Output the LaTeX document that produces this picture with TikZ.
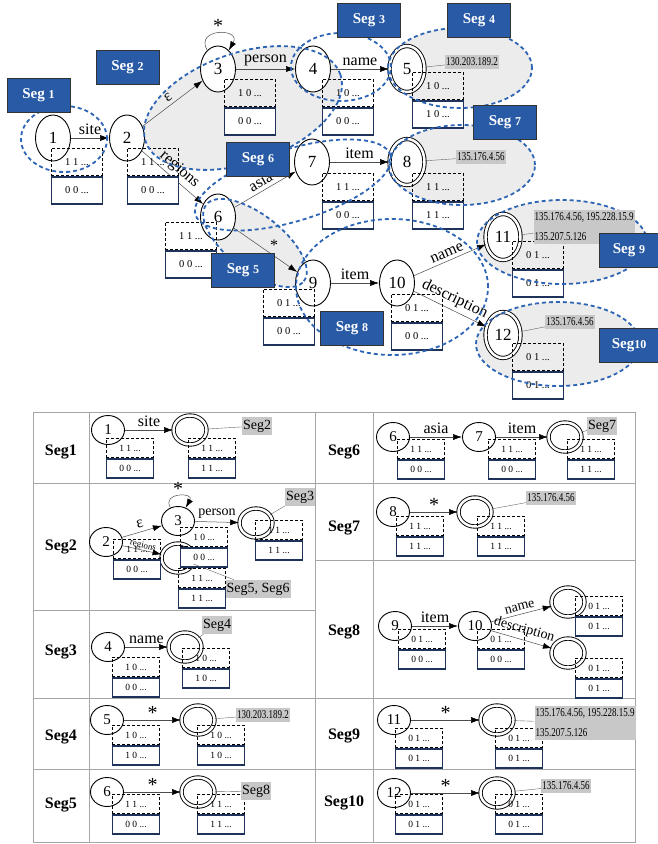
\documentclass[tikz,border=0pt]{standalone}
\usepackage{fontspec}
\setmainfont{Liberation Serif}
\newfontfamily\narrowfont[FakeStretch=0.75]{Liberation Serif}
\usetikzlibrary{arrows.meta,automata,positioning,shapes.geometric}

\definecolor{segblue}{RGB}{40,90,165}
\definecolor{segline}{RGB}{45,100,180}
\definecolor{navy}{RGB}{30,50,90}
\definecolor{segshade}{RGB}{236,236,236}
\definecolor{tagfill}{RGB}{200,200,200}

% dashed bit box with the solid one below it
\newcommand{\bits}[6][]{%
  \node[dbox,#1] (#2u) at (#3,#4) {#5};
  \node[sbox,#1] (#2l) [below=0pt of #2u] {#6};}
\newcommand{\segno}[1]{{\fontsize{12}{12}\selectfont #1}}

\begin{document}
\begin{tikzpicture}[x=1pt,y=-1pt,>={Latex[length=9pt,width=6pt,color=black]},
    font=\fontsize{16}{16}\selectfont,
    every state/.style={ellipse,draw,line width=0.9pt,fill=white,inner sep=0pt,
      minimum width=35pt,minimum height=46pt,font=\fontsize{17}{17}\selectfont},
    accepting by double/.style={double,double distance=2.5pt},
    ministate/.style={state,minimum width=33pt,minimum height=29pt,
      font=\fontsize{15}{15}\selectfont},
    every edge/.append style={draw=black!70,line width=0.5pt},
    dbox/.style={draw,dash pattern=on 3pt off 2pt,line width=0.9pt,anchor=north west,
      minimum width=51pt,minimum height=27pt,inner sep=0pt,
      font=\fontsize{10.5}{10.5}\selectfont},
    sbox/.style={draw=navy,line width=1.8pt,fill=white,minimum width=51pt,
      minimum height=27pt,inner sep=0pt,font=\fontsize{10.5}{10.5}\selectfont},
    mini/.style={minimum width=47pt,minimum height=19pt,font=\fontsize{9.5}{9.5}\selectfont},
    segring/.style={draw=segline,line width=1.8pt,dash pattern=on 4pt off 3pt},
    seglab/.style={fill=segblue,draw=black!80,line width=0.8pt,text=white,
      font=\bfseries\fontsize{15}{15}\selectfont,minimum width=63pt,minimum height=34pt,inner sep=0pt},
    tag/.style={fill=tagfill,inner xsep=1pt,inner ysep=3pt,font=\narrowfont\fontsize{12}{12}\selectfont},
    minitag/.style={tag,font=\fontsize{14}{14}\selectfont},
    tagline/.style={draw=black!60,line width=0.4pt},
    rowlab/.style={font=\bfseries\fontsize{16}{16}\selectfont},
    grid/.style={draw=black!35,line width=0.8pt},
    star/.style={font=\fontsize{20}{20}\selectfont,inner sep=0pt}]

\useasboundingbox (0,0) rectangle (658,844);

% shaded segments
\fill[segshade,rotate around={19:(243,108)}] (243,108) ellipse [x radius=103pt,y radius=55pt];
\fill[segshade] (460,68) ellipse [x radius=72pt,y radius=40pt];
\fill[segshade,rotate around={-38:(255,243)}] (255,243) ellipse [x radius=62pt,y radius=28pt];
\fill[segshade] (462,165) ellipse [x radius=73pt,y radius=40pt];
\fill[segshade] (562,242) ellipse [x radius=85pt,y radius=42pt];
\fill[segshade] (558,344) ellipse [x radius=82pt,y radius=42pt];

\node[state] (s1) at (53,138) {1};
\node[state] (s2) at (127,138) {2};
\node[state] (s3) at (218,69) {3};
\node[state] (s4) at (313,69) {4};
\node[state,accepting] (s5) at (407,69) {5};
\node[state] (s6) at (218,217) {6};
\node[state] (s7) at (312,162) {7};
\node[state,accepting] (s8) at (407,162) {8};
\node[state] (s9) at (313,283) {9};
\node[state] (s10) at (397,283) {10};
\node[state,accepting] (s11) at (503,237) {11};
\node[state,accepting] (s12) at (503,335) {12};

\path[->] (s1) edge node[above] {site} (s2);
\path[->] (s2) edge node[above,sloped] {ε} (s3);
\path[->] (s2) edge node[above,sloped] {regions} (s6);
\path[->] (s3) edge[loop,out=120,in=60,min distance=26pt] node[star,above=1pt] {*} (s3);
\path[->] (s3) edge node[above] {person} (s4);
\path[->] (s4) edge node[above] {name} (s5);
\path[->] (s6) edge node[above,sloped] {asia} (s7);
\path[->] (s6) edge node[above right=-3pt,pos=0.55] {*} (s9);
\path[->] (s7) edge node[above] {item} (s8);
\path[->] (s9) edge node[above] {item} (s10);
\path[->] (s10) edge node[above,sloped] {name} (s11);
\path[->] (s10) edge node[above,sloped] {description} (s12);

\bits{b1}{51}{148}{1 1 ...}{0 0 ...}
\bits{b2}{127}{148}{1 1 ...}{0 0 ...}
\bits{b3}{224}{79}{1 0 ...}{0 0 ...}
\bits{b4}{322}{79}{1 0 ...}{0 0 ...}
\bits{b5}{412}{72}{1 0 ...}{1 0 ...}
\bits{b6}{165}{222}{1 1 ...}{0 0 ...}
\bits{b7}{322}{173}{1 1 ...}{0 0 ...}
\bits{b8}{412}{173}{1 1 ...}{1 1 ...}
\bits{b9}{263}{289}{0 1 ...}{0 0 ...}
\bits{b10}{391}{294}{0 1 ...}{0 0 ...}
\bits{b11}{512}{241}{0 1 ...}{0 1 ...}
\bits{b12}{512}{343}{0 1 ...}{0 1 ...}

% segment outlines
\draw[segring] (64,139) ellipse [x radius=43pt,y radius=33pt];
\draw[segring,rotate around={19:(243,108)}] (243,108) ellipse [x radius=103pt,y radius=55pt];
\draw[segring] (341,67) ellipse [x radius=50pt,y radius=34pt];
\draw[segring] (460,68) ellipse [x radius=72pt,y radius=40pt];
\draw[segring,rotate around={-38:(255,243)}] (255,243) ellipse [x radius=62pt,y radius=28pt];
\draw[segring,rotate around={17:(293,185)}] (293,185) ellipse [x radius=102pt,y radius=36pt];
\draw[segring] (462,165) ellipse [x radius=73pt,y radius=40pt];
\draw[segring] (392,287) ellipse [x radius=96pt,y radius=68pt];
\draw[segring] (562,242) ellipse [x radius=85pt,y radius=42pt];
\draw[segring] (558,344) ellipse [x radius=82pt,y radius=42pt];

\node[tag] (t5) at (472,62) {130.203.189.2};
\node[tag] (t8) at (481,157) {135.176.4.56};
\node[tag,align=left,font=\narrowfont\fontsize{12}{20}\selectfont] (t11) at (584,227)
  {135.176.4.56, 195.228.15.9\\135.207.5.126};
\node[tag] (t12) at (570,322) {135.176.4.56};
\draw[tagline] (s5) -- (t5);
\draw[tagline] (s8) -- (t8);
\draw[tagline] (s11) -- (t11);
\draw[tagline] (s12) -- (t12);

\node[seglab] (sg1) at (38.5,95) {Seg \segno{1}};
\node[seglab] (sg2) at (127.5,67.5) {Seg \segno{2}};
\node[seglab] (sg3) at (369,20) {Seg \segno{3}};
\node[seglab] (sg4) at (479,20) {Seg \segno{4}};
\node[seglab] (sg5) at (243,270.5) {Seg \segno{5}};
\node[seglab] (sg6) at (258,159.5) {Seg \segno{6}};
\node[seglab] (sg7) at (505,122) {Seg \segno{7}};
\node[seglab] (sg8) at (352,328) {Seg \segno{8}};
\node[seglab,minimum width=60pt] (sg9) at (629,250) {Seg \segno{9}};
\node[seglab,minimum width=60pt] (sg10) at (629,345.5) {Seg\segno{10}};

% table
\draw[grid] (33,412) rectangle (635,842);
\draw[grid] (89,412) -- (89,842) (315,412) -- (315,842) (373,412) -- (373,842);
\draw[grid] (33,483) -- (635,483) (33,610) -- (315,610) (315,560) -- (635,560)
  (33,698) -- (635,698) (33,769) -- (635,769);

\node[rowlab] (r1) at (61,452) {Seg1};
\node[rowlab] (r2) at (61,547) {Seg2};
\node[rowlab] (r3) at (61,652) {Seg3};
\node[rowlab] (r4) at (61,737) {Seg4};
\node[rowlab] (r5) at (61,805) {Seg5};
\node[rowlab] (r6) at (344,452) {Seg6};
\node[rowlab] (r7) at (344,528) {Seg7};
\node[rowlab] (r8) at (344,632) {Seg8};
\node[rowlab] (r9) at (344,736) {Seg9};
\node[rowlab] (r10) at (344,803) {Seg10};

% Seg1
\node[ministate] (m1) at (108,430) {1};
\node[ministate,accepting] (f1) at (190,430) {};
\path[->] (m1) edge node[above] {site} (f1);
\bits[mini]{c1}{106}{438}{1 1 ...}{0 0 ...}
\bits[mini]{d1}{188}{438}{1 1 ...}{1 1 ...}
\node[minitag] (u1) at (257,426) {Seg2};
\draw[tagline] (f1) -- (u1);

% Seg2
\node[ministate] (m2) at (106,542) {2};
\node[ministate] (n2) at (178,521) {3};
\node[ministate,accepting] (f2) at (178,558) {};
\node[ministate,accepting] (g2) at (256,523) {};
\path[->] (m2) edge node[above,sloped] {ε} (n2);
\path[->] (m2) edge node[above,sloped,inner sep=0pt,font=\fontsize{9}{9}\selectfont] {regions} (f2);
\path[->] (n2) edge[loop,out=120,in=60,min distance=18pt] node[star,above] {*} (n2);
\path[->] (n2) edge node[above,font=\fontsize{14}{14}\selectfont] {person} (g2);
\bits[mini]{c2}{113}{539}{1 1 ...}{0 0 ...}
\bits[mini]{d2}{180}{527}{1 0 ...}{0 0 ...}
\bits[mini]{e2}{178}{568}{1 1 ...}{1 1 ...}
\bits[mini]{h2}{255}{520}{1 1 ...}{1 1 ...}
\node[minitag] (u2a) at (300,497) {Seg3};
\node[minitag] (u2b) at (258,589) {Seg5, Seg6};
\draw[tagline] (g2) -- (u2a);
\draw[tagline] (f2) -- (u2b);

% Seg3
\node[ministate] (m3) at (108,647) {4};
\node[ministate,accepting] (f3) at (185,647) {};
\path[->] (m3) edge node[above] {name} (f3);
\bits[mini]{c3}{112}{657}{1 0 ...}{0 0 ...}
\bits[mini]{d3}{182}{648}{1 0 ...}{1 0 ...}
\node[minitag] (u3) at (217,625) {Seg4};
\draw[tagline] (f3) -- (u3);

% Seg4
\node[ministate] (m4) at (107,720) {5};
\node[ministate,accepting] (f4) at (198,720) {};
\path[->] (m4) edge node[star,above] {*} (f4);
\bits[mini]{c4}{112}{725}{1 0 ...}{1 0 ...}
\bits[mini]{d4}{197}{725}{1 0 ...}{1 0 ...}
\node[tag] (u4) at (263,715) {130.203.189.2};
\draw[tagline] (f4) -- (u4);

% Seg5
\node[ministate] (m5) at (107,792) {6};
\node[ministate,accepting] (f5) at (198,792) {};
\path[->] (m5) edge node[star,above] {*} (f5);
\bits[mini]{c5}{112}{794}{1 1 ...}{0 0 ...}
\bits[mini]{d5}{197}{794}{1 1 ...}{1 1 ...}
\node[minitag] (u5) at (256,791) {Seg8};
\draw[tagline] (f5) -- (u5);

% Seg6
\node[ministate] (m6) at (393,437) {6};
\node[ministate] (n6) at (479,437) {7};
\node[ministate,accepting] (f6) at (565,437) {};
\path[->] (m6) edge node[above] {asia} (n6);
\path[->] (n6) edge node[above] {item} (f6);
\bits[mini]{c6}{397}{439}{1 1 ...}{0 0 ...}
\bits[mini]{d6}{488}{439}{1 1 ...}{0 0 ...}
\bits[mini]{e6}{567}{439}{1 1 ...}{1 1 ...}
\node[minitag] (u6) at (602,426) {Seg7};
\draw[tagline] (f6) -- (u6);

% Seg7
\node[ministate] (m7) at (393,512) {8};
\node[ministate,accepting] (f7) at (475,512) {};
\path[->] (m7) edge node[star,above] {*} (f7);
\bits[mini]{c7}{396}{516}{1 1 ...}{1 1 ...}
\bits[mini]{d7}{477}{516}{1 1 ...}{1 1 ...}
\node[tag] (u7) at (551,498) {135.176.4.56};
\draw[tagline] (f7) -- (u7);

% Seg8
\node[ministate] (m8) at (395,626) {9};
\node[ministate] (n8) at (475,626) {10};
\node[ministate,accepting] (f8) at (568,602) {};
\node[ministate,accepting] (g8) at (568,653) {};
\path[->] (m8) edge node[above] {item} (n8);
\path[->] (n8) edge node[above,sloped,font=\fontsize{14}{14}\selectfont] {name} (f8);
\path[->] (n8) edge node[above,sloped,font=\fontsize{14}{14}\selectfont] {description} (g8);
\bits[mini]{c8}{398}{629}{0 1 ...}{0 0 ...}
\bits[mini]{d8}{477}{629}{0 1 ...}{0 0 ...}
\bits[mini]{e8}{575}{596}{0 1 ...}{0 1 ...}
\bits[mini]{h8}{575}{658}{0 1 ...}{0 1 ...}

% Seg9
\node[ministate] (m9) at (394,720) {11};
\node[ministate,accepting] (f9) at (497,720) {};
\path[->] (m9) edge node[star,above] {*} (f9);
\bits[mini]{c9}{395}{728}{0 1 ...}{0 1 ...}
\bits[mini]{d9}{495}{728}{0 1 ...}{0 1 ...}
\node[tag,align=left,font=\narrowfont\fontsize{12}{20}\selectfont] (u9) at (585,723)
  {135.176.4.56, 195.228.15.9\\135.207.5.126};
\draw[tagline] (f9) -- (u9);

% Seg10
\node[ministate] (m10) at (394,793) {12};
\node[ministate,accepting] (f10) at (497,793) {};
\path[->] (m10) edge node[star,above] {*} (f10);
\bits[mini]{c10}{395}{794}{0 1 ...}{0 1 ...}
\bits[mini]{d10}{495}{794}{0 1 ...}{0 1 ...}
\node[tag] (u10) at (566,786) {135.176.4.56};
\draw[tagline] (f10) -- (u10);

\end{tikzpicture}
\end{document}
